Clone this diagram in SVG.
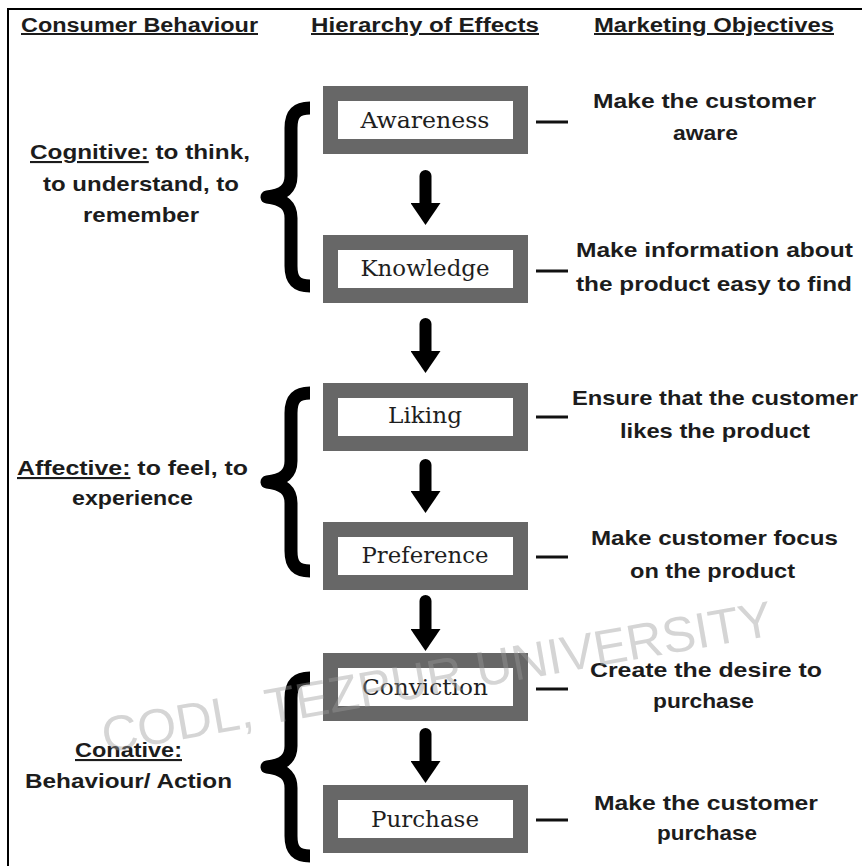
<svg xmlns="http://www.w3.org/2000/svg" width="862" height="866" viewBox="0 0 862 866">
<style>
.hd{font-family:"Liberation Sans",Arial,sans-serif;font-weight:bold;font-size:20px;fill:#1c1c1c;text-decoration:underline;}
.tx{font-family:"Liberation Sans",Arial,sans-serif;font-weight:bold;font-size:21px;fill:#1c1c1c;}
.ul{text-decoration:underline;}
.box{fill:#ffffff;stroke:#676767;stroke-width:15;}
.bt{font-family:"DejaVu Serif","Liberation Serif",serif;font-size:22px;fill:#1e1e1e;text-anchor:middle;}
.arr{stroke:#000;stroke-width:12;stroke-linecap:round;fill:none;}
.dash{stroke:#111;stroke-width:3;}
.brace{fill:none;stroke:#000;stroke-width:13;stroke-linejoin:round;stroke-linecap:butt;}
.wm{font-family:"Liberation Sans",Arial,sans-serif;font-size:50px;fill:#9a9a9a;fill-opacity:0.42;}
</style>
<defs>
<marker id="ah" viewBox="0 -15 22 30" refX="0" refY="0" markerWidth="22" markerHeight="30" markerUnits="userSpaceOnUse" orient="auto">
<path d="M0,-15 L22,0 L0,15 z" fill="#000"/>
</marker>
<path id="br" d="M310,108 C296,108 291,114 291,128 L291,176 C291,189 283,195 267,197 C283,199 291,205 291,218 L291,266 C291,280 296,286 310,286"/>
</defs>
<rect x="0" y="0" width="862" height="866" fill="#ffffff"/>
<g id="frame" stroke="#000" stroke-width="2">
<line x1="7" y1="9" x2="862" y2="9"/>
<line x1="8" y1="8" x2="8" y2="866"/>
</g>
<g id="headers">
<text class="hd" x="21" y="32" textLength="237" lengthAdjust="spacingAndGlyphs">Consumer Behaviour</text>
<text class="hd" x="311" y="32" textLength="228" lengthAdjust="spacingAndGlyphs">Hierarchy of Effects</text>
<text class="hd" x="594" y="32" textLength="240" lengthAdjust="spacingAndGlyphs">Marketing Objectives</text>
</g>
<g id="braces" class="brace">
<use href="#br"/>
<use href="#br" transform="translate(0,285)"/>
<use href="#br" transform="translate(0,570)"/>
</g>
<g id="cognitive" class="tx">
<text x="30" y="159" textLength="220" lengthAdjust="spacingAndGlyphs"><tspan class="ul">Cognitive:</tspan> to think,</text>
<text x="43" y="191" textLength="196" lengthAdjust="spacingAndGlyphs">to understand, to</text>
<text x="83" y="222" textLength="116" lengthAdjust="spacingAndGlyphs">remember</text>
</g>
<g id="affective" class="tx">
<text x="17" y="475" textLength="231" lengthAdjust="spacingAndGlyphs"><tspan class="ul">Affective:</tspan> to feel, to</text>
<text x="72" y="505" textLength="121" lengthAdjust="spacingAndGlyphs">experience</text>
</g>
<g id="conative" class="tx">
<text x="75" y="757" textLength="107" lengthAdjust="spacingAndGlyphs"><tspan class="ul">Conative:</tspan></text>
<text x="25" y="788" textLength="207" lengthAdjust="spacingAndGlyphs">Behaviour/ Action</text>
</g>
<g id="awareness">
<rect class="box" x="330.5" y="93.5" width="190" height="53"/>
<text class="bt" x="425" y="128" textLength="129" lengthAdjust="spacingAndGlyphs">Awareness</text>
</g>
<g id="knowledge">
<rect class="box" x="330.5" y="242.5" width="190" height="53"/>
<text class="bt" x="425" y="276" textLength="129" lengthAdjust="spacingAndGlyphs">Knowledge</text>
</g>
<g id="liking">
<rect class="box" x="330.5" y="390.5" width="190" height="53"/>
<text class="bt" x="425" y="423" textLength="74" lengthAdjust="spacingAndGlyphs">Liking</text>
</g>
<g id="preference">
<rect class="box" x="330.5" y="529.5" width="190" height="53"/>
<text class="bt" x="425" y="563" textLength="127" lengthAdjust="spacingAndGlyphs">Preference</text>
</g>
<g id="conviction">
<rect class="box" x="330.5" y="660.5" width="190" height="53"/>
<text class="bt" x="425" y="695" textLength="126" lengthAdjust="spacingAndGlyphs">Conviction</text>
</g>
<g id="purchase">
<rect class="box" x="330.5" y="792.5" width="190" height="53"/>
<text class="bt" x="425" y="827" textLength="108" lengthAdjust="spacingAndGlyphs">Purchase</text>
</g>
<g id="connectors">
<line class="arr" x1="425.5" y1="176" x2="425.5" y2="203" marker-end="url(#ah)"/>
<line class="arr" x1="425.5" y1="324" x2="425.5" y2="351" marker-end="url(#ah)"/>
<line class="arr" x1="425.5" y1="465" x2="425.5" y2="491" marker-end="url(#ah)"/>
<line class="arr" x1="425.5" y1="601" x2="425.5" y2="629" marker-end="url(#ah)"/>
<line class="arr" x1="425.5" y1="734" x2="425.5" y2="761" marker-end="url(#ah)"/>
<line class="dash" x1="536" y1="122" x2="568" y2="122"/>
<line class="dash" x1="536" y1="271" x2="568" y2="271"/>
<line class="dash" x1="536" y1="417" x2="568" y2="417"/>
<line class="dash" x1="536" y1="557" x2="568" y2="557"/>
<line class="dash" x1="536" y1="689" x2="568" y2="689"/>
<line class="dash" x1="536" y1="820" x2="568" y2="820"/>
</g>
<g id="objectives" class="tx">
<text x="593" y="108" textLength="223" lengthAdjust="spacingAndGlyphs">Make the customer</text>
<text x="673" y="140" textLength="65" lengthAdjust="spacingAndGlyphs">aware</text>
<text x="576" y="257" textLength="277" lengthAdjust="spacingAndGlyphs">Make information about</text>
<text x="576" y="291" textLength="276" lengthAdjust="spacingAndGlyphs">the product easy to find</text>
<text x="572" y="405" textLength="286" lengthAdjust="spacingAndGlyphs">Ensure that the customer</text>
<text x="620" y="438" textLength="190" lengthAdjust="spacingAndGlyphs">likes the product</text>
<text x="591" y="545" textLength="247" lengthAdjust="spacingAndGlyphs">Make customer focus</text>
<text x="630" y="578" textLength="165" lengthAdjust="spacingAndGlyphs">on the product</text>
<text x="590" y="677" textLength="232" lengthAdjust="spacingAndGlyphs">Create the desire to</text>
<text x="653" y="708" textLength="101" lengthAdjust="spacingAndGlyphs">purchase</text>
<text x="594" y="810" textLength="224" lengthAdjust="spacingAndGlyphs">Make the customer</text>
<text x="657" y="840" textLength="100" lengthAdjust="spacingAndGlyphs">purchase</text>
</g>
<g id="watermark">
<text class="wm" transform="translate(105,753) rotate(-10)" x="0" y="0" textLength="680" lengthAdjust="spacingAndGlyphs">CODL, TEZPUR UNIVERSITY</text>
</g>
</svg>
